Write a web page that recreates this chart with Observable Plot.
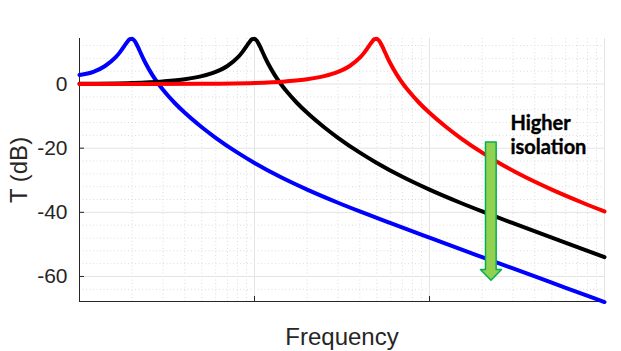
<!DOCTYPE html>
<html><head><meta charset="utf-8">
<script src="https://cdn.jsdelivr.net/npm/d3@7"></script>
<script src="https://cdn.jsdelivr.net/npm/@observablehq/plot@0.6"></script>
<style>body{margin:0;background:#fff}</style>
</head><body><div id="chart"></div>
<script>
// Blue curve (lowest natural frequency)
const blueFreq = [1,1.2,1.4,1.6,1.7,1.8,1.84,1.9,1.94,2,2.06,2.1,2.16,2.2,2.3,2.4,2.6,2.83,3,3.5,4,5,6,8,10,14,20,30,40,60,100,140,200,300,400,600,1000];
const blueDb = [2.8,3.79,5.62,8.2,9.87,11.78,12.55,13.56,14.02,14.15,13.54,12.81,11.49,10.54,8.27,6.24,2.93,0,-1.81,-5.91,-8.97,-13.47,-16.75,-21.39,-24.6,-28.92,-32.92,-37.01,-39.72,-43.39,-47.91,-50.86,-53.97,-57.5,-60,-63.52,-67.96];
// Black curve
const blackFreq = [1,2,3,4,5,6,7,8,8.5,9,9.2,9.5,9.7,10,10.3,10.5,10.8,11,11.5,12,13,14.14,15,17.5,20,25,30,40,50,70,100,150,200,300,500,700,1000];
const blackDb = [0.09,0.35,0.82,1.5,2.47,3.79,5.62,8.2,9.87,11.78,12.55,13.56,14.02,14.15,13.54,12.81,11.49,10.54,8.27,6.24,2.93,0,-1.81,-5.91,-8.97,-13.47,-16.75,-21.39,-24.6,-28.92,-32.92,-37.01,-39.72,-43.39,-47.91,-50.86,-53.97];
// Red curve (highest natural frequency)
const redFreq = [1,2.5,5,10,15,20,25,30,35,40,42.5,45,46,47.5,48.5,50,51.5,52.5,54,55,57.5,60,65,70.7,75,87.5,100,125,150,200,250,350,500,750,1000];
const redDb = [0,0.02,0.09,0.35,0.82,1.5,2.47,3.79,5.62,8.2,9.87,11.78,12.55,13.56,14.02,14.15,13.54,12.81,11.49,10.54,8.27,6.24,2.93,0,-1.81,-5.91,-8.97,-13.47,-16.75,-21.39,-24.6,-28.92,-32.92,-37.01,-39.72];

const seriesNames = ["blue", "black", "red"];
const seriesColors = ["#0000ff", "#000000", "#ff0000"];

const xDomain = [1, 1000];
const yDomain = [-67.8, 14.2];
const yTickValues = [-60, -40, -20, 0];
const yMinorValues = [-64,-56,-52,-48,-44,-36,-32,-28,-24,-16,-12,-8,-4,4,8,12];
const xMajorValues = [10, 100, 1000];
const xMinorValues = [2,3,4,5,6,7,8,9,20,30,40,50,60,70,80,90,200,300,400,500,600,700,800,900];

const xLabel = "Frequency";
const yLabel = "T (dB)";

// Annotation: block arrow (in data units) and note text
const arrowFreq = [208.9, 240.4, 240.4, 257.8, 224.6, 195.5, 208.9, 208.9];
const arrowDb = [-18.1, -18.1, -57.8, -57.8, -61.2, -57.8, -57.8, -18.1];
const noteLines = ["Higher", "isolation"];
const noteFreq = [290, 290];
const noteDb = [-12.3, -19.8];

const toRows = (f, d, name) => f.map((x, i) => ({f: x, db: d[i], name}));
const rows = [
  ...toRows(blueFreq, blueDb, "blue"),
  ...toRows(blackFreq, blackDb, "black"),
  ...toRows(redFreq, redDb, "red")
];
const arrowRows = arrowFreq.map((f, i) => ({f, db: arrowDb[i]}));
const noteRows = noteLines.map((t, i) => ({t, f: noteFreq[i], db: noteDb[i]}));

const axisColor = "#262626";

const chart = Plot.plot({
  width: 621, height: 351,
  marginLeft: 79, marginRight: 17, marginTop: 38, marginBottom: 50,
  x: {type: "log", domain: xDomain, axis: null},
  y: {domain: yDomain, axis: null},
  color: {domain: seriesNames, range: seriesColors},
  style: {fontFamily: "'Liberation Sans', Arial, sans-serif", background: "white", overflow: "visible"},
  marks: [
    Plot.ruleX(xMinorValues, {stroke: "#dcdcdc", strokeDasharray: "1,2.5"}),
    Plot.ruleY(yMinorValues, {stroke: "#dcdcdc", strokeDasharray: "1,2.5"}),
    Plot.ruleX(xMajorValues, {stroke: "#e4e4e4"}),
    Plot.ruleY(yTickValues, {stroke: "#e4e4e4"}),
    Plot.ruleX([xDomain[0]], {stroke: axisColor, strokeWidth: 1}),
    Plot.ruleY([yDomain[0]], {stroke: axisColor, strokeWidth: 1}),
    Plot.tickY(yTickValues, {y: d => d, stroke: axisColor, insetRight: 520}),
    Plot.tickX(xMajorValues.slice(0, 2), {x: d => d, stroke: axisColor, insetTop: 258}),
    Plot.text(yTickValues, {x: xDomain[0], y: d => d, text: d => String(d), textAnchor: "end", dx: -12, fontSize: 21, fill: axisColor}),
    Plot.text([yLabel], {frameAnchor: "left", dx: -60, rotate: -90, fontSize: 24, fill: axisColor, lineAnchor: "middle", textAnchor: "middle"}),
    Plot.text([xLabel], {frameAnchor: "bottom", dy: 36, fontSize: 24, fill: axisColor, lineAnchor: "middle", textAnchor: "middle"}),
    Plot.line(rows, {x: "f", y: "db", z: "name", stroke: "name", strokeWidth: 4, curve: "monotone-x"}),
    Plot.line(arrowRows, {x: "f", y: "db", fill: "#92d050", stroke: "#00b050", strokeWidth: 1.5, curve: "linear"}),
    Plot.text(noteRows, {x: "f", y: "db", text: "t", textAnchor: "start", lineAnchor: "middle", fontSize: 20, fontWeight: "bold", fontFamily: "Lato, 'Open Sans', sans-serif", fill: "#000", stroke: "#000", strokeWidth: 0.4})
  ]
});
document.getElementById("chart").appendChild(chart);
</script>
</body></html>
